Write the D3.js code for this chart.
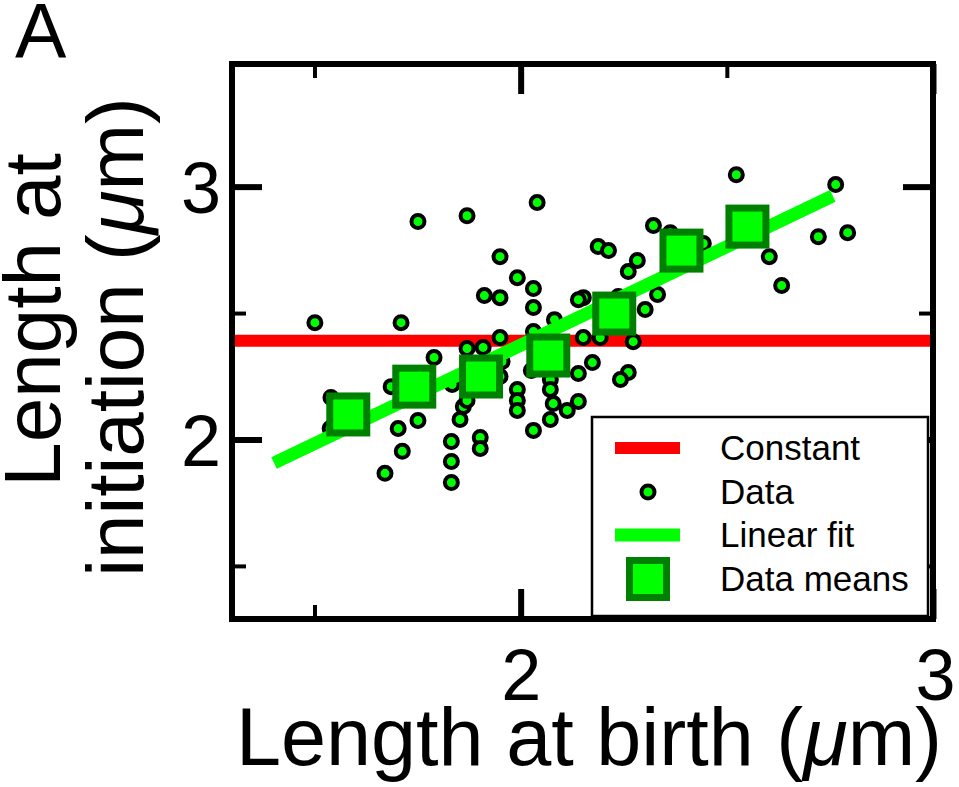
<!DOCTYPE html>
<html>
<head>
<meta charset="utf-8">
<script src="https://cdn.jsdelivr.net/npm/d3@7/dist/d3.min.js"></script>
<style>
  html, body { margin: 0; padding: 0; background: #fff; }
  svg { display: block; }
  text { font-family: "Liberation Sans", Arial, Helvetica, sans-serif; fill: #000; }
</style>
</head>
<body>
<script>
// ---------------- data ----------------
const birthLength = [1.501,1.710,1.751,1.870,2.040,1.950,1.992,2.031,2.031,1.912,1.950,2.152,2.140,2.082,1.950,1.870,1.909,2.031,2.152,2.193,2.188,2.213,2.174,2.140,1.955,2.072,2.072,1.992,1.992,1.992,2.079,2.113,2.140,2.072,2.031,1.853,1.861,1.870,1.902,1.902,1.832,1.832,1.832,1.790,1.686,1.540,1.538,1.751,1.703,1.713,1.671,2.523,2.764,2.722,2.793,2.603,2.633,2.322,2.283,2.261,2.332,2.302,2.273,2.261,2.242,2.443,2.363,1.834,1.950,2.026,2.237];
const initLength  = [2.462,2.462,2.862,2.885,2.937,2.723,2.640,2.597,2.522,2.569,2.561,2.561,2.553,2.474,2.403,2.360,2.364,2.427,2.403,2.403,2.763,2.747,2.304,2.261,2.308,2.237,2.198,2.198,2.154,2.115,2.142,2.115,2.150,2.079,2.036,2.079,2.130,2.154,2.008,1.964,1.992,1.913,1.830,2.324,2.209,2.166,2.043,2.075,2.043,1.953,1.866,3.047,3.008,2.802,2.818,2.723,2.609,2.846,2.708,2.664,2.573,2.514,2.387,2.265,2.237,2.775,2.818,2.217,2.249,2.273,2.565];
const meanBirth = [1.582,1.742,1.904,2.067,2.227,2.390,2.550];
const meanInit  = [2.099,2.209,2.249,2.332,2.498,2.747,2.842];
const fitX = [1.402, 2.757];
const fitY = [1.907, 2.963];
const constantValue = 2.39;
const xMajorTicks = [2, 3];
const xMinorTicks = [1.5, 2.5];
const yMajorTicks = [2, 3];
const yMinorTicks = [1.5, 2.5];
const legendLabels = ["Constant", "Data", "Linear fit", "Data means"];

// ---------------- layout ----------------
const W = 959, H = 787;
const L = 232, R = 933, T = 64, B = 619;
const RED = "#ff0000", LIME = "#00ff00", DKGREEN = "#008000";
const FONT = '"Liberation Sans", Arial, Helvetica, sans-serif';

const svg = d3.select("body").append("svg").attr("width", W).attr("height", H);

const x = d3.scaleLinear().domain([1.3, 3.0]).range([L, R]);
const y = d3.scaleLinear().domain([1.29, 3.485]).range([B, T]);

// constant line
svg.append("line")
  .attr("x1", x(1.3)).attr("x2", x(3.0))
  .attr("y1", y(constantValue)).attr("y2", y(constantValue))
  .attr("stroke", RED).attr("stroke-width", 12);

// data points
const pts = birthLength.map((b, i) => [b, initLength[i]]);
svg.append("g").selectAll("circle").data(pts).join("circle")
  .attr("cx", d => x(d[0])).attr("cy", d => y(d[1]))
  .attr("r", 6.5).attr("fill", LIME).attr("stroke", "#000").attr("stroke-width", 4);

// linear fit
svg.append("path")
  .datum(fitX.map((v, i) => [v, fitY[i]]))
  .attr("d", d3.line().x(d => x(d[0])).y(d => y(d[1])))
  .attr("stroke", LIME).attr("stroke-width", 13).attr("fill", "none");

// data means
const means = meanBirth.map((b, i) => [b, meanInit[i]]);
const sq = 37;
svg.append("g").selectAll("rect").data(means).join("rect")
  .attr("x", d => x(d[0]) - sq / 2).attr("y", d => y(d[1]) - sq / 2)
  .attr("width", sq).attr("height", sq)
  .attr("fill", LIME).attr("stroke", DKGREEN).attr("stroke-width", 7);

// ticks (inward on all sides)
function tickAxis(axisFn, scale, vals, len, sw, transform) {
  const g = svg.append("g").attr("transform", transform)
    .call(axisFn(scale).tickValues(vals).tickSize(len).tickFormat("").tickSizeOuter(0));
  g.select(".domain").remove();
  g.selectAll(".tick line").attr("stroke", "#000").attr("stroke-width", sw);
}
tickAxis(d3.axisBottom, x, xMajorTicks, -30, 6, `translate(0,${B})`);
tickAxis(d3.axisBottom, x, xMinorTicks, -14, 4, `translate(0,${B})`);
tickAxis(d3.axisTop, x, xMajorTicks, -30, 6, `translate(0,${T})`);
tickAxis(d3.axisTop, x, xMinorTicks, -14, 4, `translate(0,${T})`);
tickAxis(d3.axisLeft, y, yMajorTicks, -30, 6, `translate(${L},0)`);
tickAxis(d3.axisLeft, y, yMinorTicks, -14, 4, `translate(${L},0)`);
tickAxis(d3.axisRight, y, yMajorTicks, -30, 6, `translate(${R},0)`);
tickAxis(d3.axisRight, y, yMinorTicks, -14, 4, `translate(${R},0)`);

// tick labels
const xl = svg.append("g").attr("transform", `translate(0,${B})`)
  .call(d3.axisBottom(x).tickValues(xMajorTicks).tickSize(0).tickPadding(0).tickFormat(d3.format("d")));
xl.select(".domain").remove();
xl.selectAll("text").attr("font-family", FONT).attr("font-size", 72).attr("fill", "#000")
  .attr("y", 81).attr("dy", 0);
xl.selectAll(".tick").filter(d => d === 3).select("text").attr("x", 2);

const yl = svg.append("g").attr("transform", `translate(${L},0)`)
  .call(d3.axisLeft(y).tickValues(yMajorTicks).tickSize(0).tickPadding(0).tickFormat(d3.format("d")));
yl.select(".domain").remove();
yl.selectAll("text").attr("font-family", FONT).attr("font-size", 72).attr("fill", "#000")
  .attr("x", -11).attr("dy", 26);

// legend
const lg = svg.append("g");
lg.append("rect").attr("x", 592).attr("y", 417).attr("width", 336).attr("height", 199)
  .attr("fill", "#fff").attr("stroke", "#000").attr("stroke-width", 2.5);
const rowY = [448, 492, 535, 579];
lg.append("line").attr("x1", 615).attr("x2", 680).attr("y1", rowY[0]).attr("y2", rowY[0])
  .attr("stroke", RED).attr("stroke-width", 12);
lg.append("circle").attr("cx", 648).attr("cy", rowY[1]).attr("r", 6.5)
  .attr("fill", LIME).attr("stroke", "#000").attr("stroke-width", 4);
lg.append("line").attr("x1", 615).attr("x2", 680).attr("y1", rowY[2]).attr("y2", rowY[2])
  .attr("stroke", LIME).attr("stroke-width", 13);
lg.append("rect").attr("x", 648 - sq / 2).attr("y", rowY[3] - sq / 2).attr("width", sq).attr("height", sq)
  .attr("fill", LIME).attr("stroke", DKGREEN).attr("stroke-width", 7);
lg.selectAll("text.leg").data(legendLabels).join("text").attr("class", "leg")
  .attr("x", 720).attr("y", (d, i) => rowY[i] + 12)
  .attr("font-size", 35).text(d => d);

// frame
svg.append("rect").attr("x", L).attr("y", T).attr("width", R - L).attr("height", B - T)
  .attr("fill", "none").attr("stroke", "#000").attr("stroke-width", 6);

// axis titles
const xt = svg.append("text").attr("x", 589).attr("y", 765).attr("text-anchor", "middle")
  .attr("font-size", 81);
xt.append("tspan").text("Length at birth (");
xt.append("tspan").attr("font-style", "italic").text("μ");
xt.append("tspan").text("m)");

svg.append("text").attr("transform", "translate(60,320) rotate(-90)")
  .attr("text-anchor", "middle").attr("font-size", 80).text("Length at");
const yt2 = svg.append("text").attr("transform", "translate(143,337) rotate(-90)")
  .attr("text-anchor", "middle").attr("font-size", 80);
yt2.append("tspan").text("initiation (");
yt2.append("tspan").attr("font-style", "italic").text("μ");
yt2.append("tspan").text("m)");

// panel label
svg.append("text").attr("x", 15).attr("y", 58).attr("font-size", 77).text("A");
</script>
</body>
</html>
